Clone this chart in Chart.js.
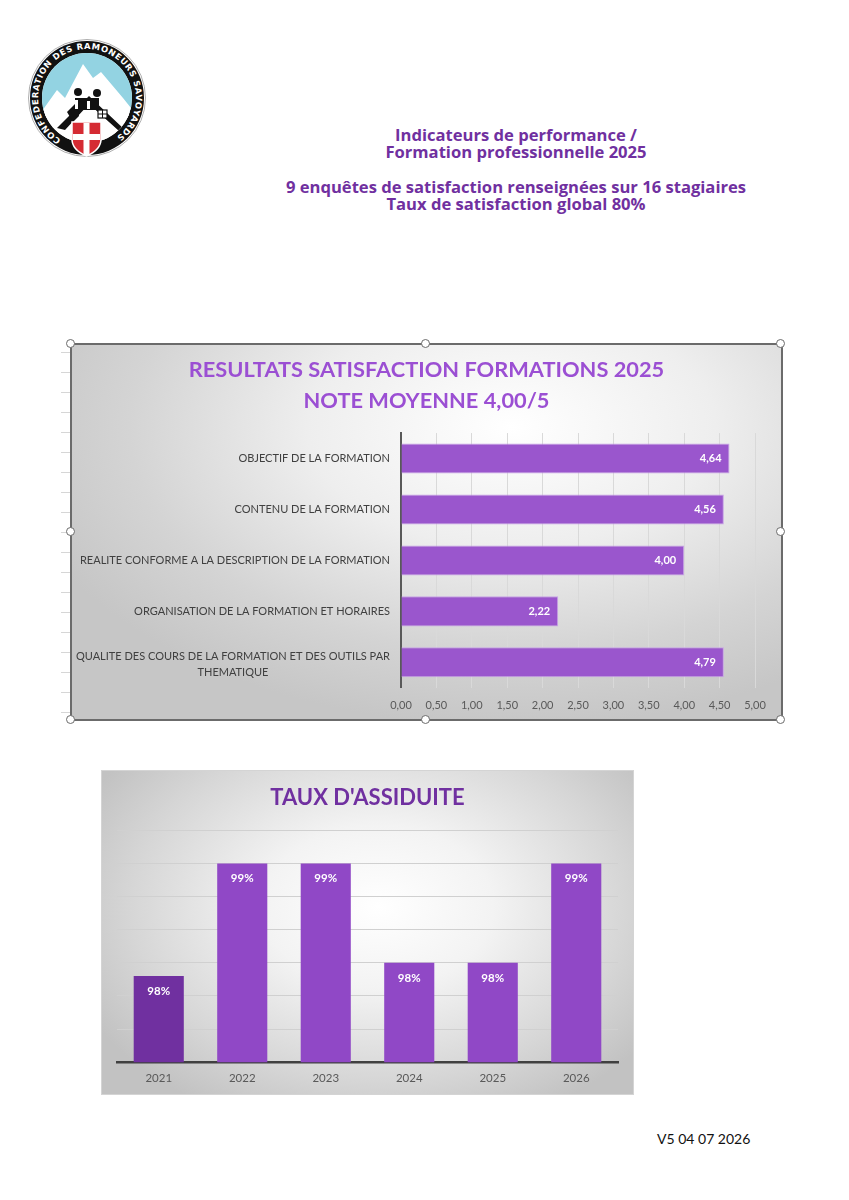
<!DOCTYPE html>
<html><head><meta charset="utf-8">
<script src="https://cdn.jsdelivr.net/npm/chart.js@4.4.1/dist/chart.umd.min.js"></script>
<style>
html,body{margin:0;padding:0;background:#fff;}
body{width:849px;height:1200px;overflow:hidden;position:relative;font-family:Lato,'Open Sans',sans-serif;}
#logo{position:absolute;left:27px;top:38px;width:120px;height:120px;}
#header{position:absolute;left:216px;width:600px;top:126px;text-align:center;color:#7030a0;font-family:'Open Sans',Lato,sans-serif;font-weight:bold;font-size:16.6px;line-height:17.3px;}
#rows{position:absolute;left:61px;top:343px;width:9px;height:376px;background:repeating-linear-gradient(to bottom,transparent 0,transparent 9px,#d6d6d6 9px,#d6d6d6 10px,transparent 10px,transparent 20px);}
#box1{position:absolute;left:70px;top:343px;width:709px;height:374px;border:2px solid #6b6b6b;
 background:radial-gradient(ellipse 72% 80% at 62% 22%,#ffffff 0%,#eeeeee 40%,#d4d4d4 75%,#c6c6c6 100%);}
#box2{position:absolute;left:101px;top:770px;width:531px;height:323px;border:1px solid #d4d4d4;
 background:radial-gradient(ellipse 62% 72% at 52% 42%,#ffffff 0%,#f3f3f3 35%,#d6d6d6 75%,#c2c2c2 100%);}
.cw{position:absolute;left:0;top:0;width:100%;height:100%;}
.h{position:absolute;width:9px;height:9px;border-radius:50%;background:#fff;border:1.5px solid #6b6b6b;box-sizing:border-box;}
#footer{position:absolute;left:657px;top:1130px;font-size:14px;color:#111;font-family:Lato,sans-serif;}
</style></head>
<body>
<svg id="logo" viewBox="0 0 120 120">
 <defs>
  <clipPath id="inner"><circle cx="60" cy="60" r="45"/></clipPath>
  <path id="ring" d="M 34.0 101.55 A 49 49 0 1 1 86.0 101.55"/>
 </defs>
 <circle cx="60" cy="60" r="58.5" fill="#fff" stroke="#999" stroke-width="0.8"/>
 <circle cx="60" cy="60" r="57" fill="#111"/>
 <circle cx="60" cy="60" r="45" fill="#fff"/>
 <g clip-path="url(#inner)">
  <rect x="0" y="0" width="120" height="74" fill="#93d3e2"/>
  <polygon points="10,80 30,52 38,60 56,26 66,40 74,34 96,60 112,80" fill="#fff"/>
  <rect x="0" y="74" width="120" height="50" fill="#fff"/>
  <polygon points="30,90 62,58 98,92 92,93 62,66 38,92" fill="#111"/>
  <polygon points="40,74 50,64 52,78 46,84" fill="#111"/>
  <rect x="48" y="60" width="24" height="12" fill="#111"/>
  <circle cx="51" cy="54" r="4" fill="#111"/><circle cx="70" cy="55" r="4" fill="#111"/>
  <rect x="48" y="62" width="3" height="9" fill="#fff"/><rect x="60" y="63" width="3" height="8" fill="#fff"/>
  <rect x="71" y="72" width="9" height="8" fill="#fff" stroke="#111" stroke-width="1.2"/>
  <line x1="75.5" y1="72" x2="75.5" y2="80" stroke="#111" stroke-width="1"/>
  <line x1="71" y1="76" x2="80" y2="76" stroke="#111" stroke-width="1"/>
 </g>
 <text font-family="DejaVu Sans" font-weight="bold" font-size="8.4" fill="#fff"><textPath href="#ring" textLength="248" lengthAdjust="spacing">CONFEDERATION DES RAMONEURS SAVOYARDS</textPath></text>
 <path d="M 45 84 H 74 V 101 Q 74 112 59.5 118 Q 45 112 45 101 Z" fill="#d52b33" stroke="#fff" stroke-width="1.5"/>
 <rect x="56.5" y="85" width="6" height="32" fill="#fff"/>
 <rect x="46" y="96" width="27" height="6" fill="#fff"/>
</svg>

<div id="header">Indicateurs de performance /<br>Formation professionnelle 2025<br><br>9 enquêtes de satisfaction renseignées sur 16 stagiaires<br>Taux de satisfaction global 80%</div>

<div id="rows"></div>
<div id="box1"><div class="cw"><canvas id="c1"></canvas></div></div>
<div class="h" style="left:66px;top:339px"></div>
<div class="h" style="left:421px;top:339px"></div>
<div class="h" style="left:776px;top:339px"></div>
<div class="h" style="left:66px;top:527px"></div>
<div class="h" style="left:776px;top:527px"></div>
<div class="h" style="left:66px;top:715px"></div>
<div class="h" style="left:421px;top:715px"></div>
<div class="h" style="left:776px;top:715px"></div>

<div id="box2"><div class="cw"><canvas id="c2"></canvas></div></div>

<div id="footer">V5 04 07 2026</div>

<script>
// ---- Chart 1 data ----
const satisfactionCategories = [
  "OBJECTIF DE LA FORMATION",
  "CONTENU DE LA FORMATION",
  "REALITE CONFORME A LA DESCRIPTION DE LA FORMATION",
  "ORGANISATION DE LA FORMATION ET HORAIRES",
  ["QUALITE DES COURS DE LA FORMATION ET DES OUTILS PAR", "THEMATIQUE"]
];
const satisfactionBars = [4.64, 4.56, 4.00, 2.22, 4.56];
const satisfactionLabels = ["4,64", "4,56", "4,00", "2,22", "4,79"];
const satisfactionTicks = [0, 0.5, 1, 1.5, 2, 2.5, 3, 3.5, 4, 4.5, 5];

// ---- Chart 2 data ----
const assiduiteYears = ["2021", "2022", "2023", "2024", "2025", "2026"];
const assiduiteValues = [98.32, 99.0, 99.0, 98.4, 98.4, 99.0];
const assiduiteGrid = [97.8, 98.0, 98.2, 98.4, 98.6, 98.8, 99.0, 99.2];

const LATO = "Lato,'Open Sans',sans-serif";

const valueLabels = {
  id: 'valueLabels',
  afterDatasetsDraw(chart, args, opts) {
    const ctx = chart.ctx;
    const meta = chart.getDatasetMeta(0);
    ctx.save();
    ctx.fillStyle = opts.color || '#fff';
    ctx.font = opts.font;
    ctx.textBaseline = 'middle';
    meta.data.forEach((el, i) => {
      const t = opts.texts[i];
      if (chart.options.indexAxis === 'y') {
        ctx.textAlign = 'right';
        ctx.fillText(t, el.x - opts.offset, el.y);
      } else {
        ctx.textAlign = 'center';
        ctx.fillText(t, el.x, el.y + opts.offset);
      }
    });
    ctx.restore();
  }
};

// category labels: block right-aligned to the axis, lines centred inside the block
const blockLabels = {
  id: 'blockLabels',
  afterDraw(chart, args, opts) {
    const ys = chart.scales.y;
    const ctx = chart.ctx;
    ctx.save();
    ctx.font = opts.font;
    ctx.fillStyle = opts.color;
    ctx.textAlign = 'center';
    ctx.textBaseline = 'middle';
    const xR = chart.chartArea.left - opts.padding;
    chart.data.labels.forEach((lab, i) => {
      const lines = Array.isArray(lab) ? lab : [lab];
      const w = Math.max(...lines.map(l => ctx.measureText(l).width));
      const cx = xR - w / 2;
      const y0 = ys.getPixelForTick(i) - (lines.length - 1) * opts.lineHeight / 2 + opts.shift * (lines.length - 1);
      lines.forEach((l, j) => ctx.fillText(l, cx, y0 + j * opts.lineHeight));
    });
    ctx.restore();
  }
};

new Chart(document.getElementById('c1'), {
  type: 'bar',
  data: {
    labels: satisfactionCategories,
    datasets: [{
      data: satisfactionBars,
      backgroundColor: '#9a56cd',
      borderColor: '#c7a2e6',
      borderWidth: 1,
      borderSkipped: 'left',
      categoryPercentage: 0.59,
      barPercentage: 1
    }]
  },
  options: {
    indexAxis: 'y',
    responsive: true,
    maintainAspectRatio: false,
    animation: false,
    layout: { padding: { left: 26, right: 26, top: 0, bottom: -4 } },
    plugins: {
      legend: { display: false },
      tooltip: { enabled: false },
      title: {
        display: true,
        text: ["RESULTATS SATISFACTION FORMATIONS 2025", "NOTE MOYENNE 4,00/5"],
        color: '#9b4fd3',
        font: { family: LATO, size: 21.8, weight: 'bold', lineHeight: 1.4 },
        padding: { top: 10, bottom: 17 }
      },
      valueLabels: {
        texts: satisfactionLabels,
        font: "bold 11px " + LATO,
        offset: 8
      },
      blockLabels: {
        font: "11px " + LATO,
        color: '#404040',
        padding: 11,
        lineHeight: 16,
        shift: 2
      }
    },
    scales: {
      x: {
        min: 0, max: 5,
        afterBuildTicks(scale) { scale.ticks = satisfactionTicks.map(v => ({ value: v })); },
        ticks: {
          color: '#595959',
          font: { family: LATO, size: 11 },
          padding: 11,
          callback: v => Number(v).toFixed(2).replace('.', ',')
        },
        grid: { color: '#d9d9d9', lineWidth: 1, drawTicks: false },
        border: { display: false }
      },
      y: {
        afterFit(scale) { scale.width = 303; },
        ticks: { display: false },
        grid: { display: false, drawTicks: false },
        border: { display: true, color: '#595959', width: 2 }
      }
    }
  },
  plugins: [valueLabels, blockLabels]
});

new Chart(document.getElementById('c2'), {
  type: 'bar',
  data: {
    labels: assiduiteYears,
    datasets: [{
      data: assiduiteValues,
      backgroundColor: ['#7030a0', '#9048c6', '#9048c6', '#9048c6', '#9048c6', '#9048c6'],
      categoryPercentage: 0.6,
      barPercentage: 1
    }]
  },
  options: {
    responsive: true,
    maintainAspectRatio: false,
    animation: false,
    layout: { padding: { left: 15, right: 15, top: 0, bottom: 0 } },
    plugins: {
      legend: { display: false },
      tooltip: { enabled: false },
      title: {
        display: true,
        text: "TAUX D'ASSIDUITE",
        color: '#7030a0',
        font: { family: LATO, size: 22, weight: 'bold', lineHeight: 1.2 },
        padding: { top: 14, bottom: 19 }
      },
      valueLabels: {
        texts: assiduiteValues.map(v => Math.round(v) + '%'),
        font: "bold 11.5px " + LATO,
        offset: 15
      }
    },
    scales: {
      x: {
        ticks: { color: '#595959', font: { family: LATO, size: 11.5 }, padding: 9 },
        grid: { display: false, drawTicks: false },
        border: { display: true, color: '#404040', width: 2.5 }
      },
      y: {
        min: assiduiteGrid[0], max: assiduiteGrid[assiduiteGrid.length - 1],
        afterBuildTicks(scale) { scale.ticks = assiduiteGrid.map(v => ({ value: v })); },
        ticks: { display: false },
        grid: { color: '#d0d0d0', lineWidth: 1, drawTicks: false },
        border: { display: false }
      }
    }
  },
  plugins: [valueLabels]
});
</script>
</body></html>
